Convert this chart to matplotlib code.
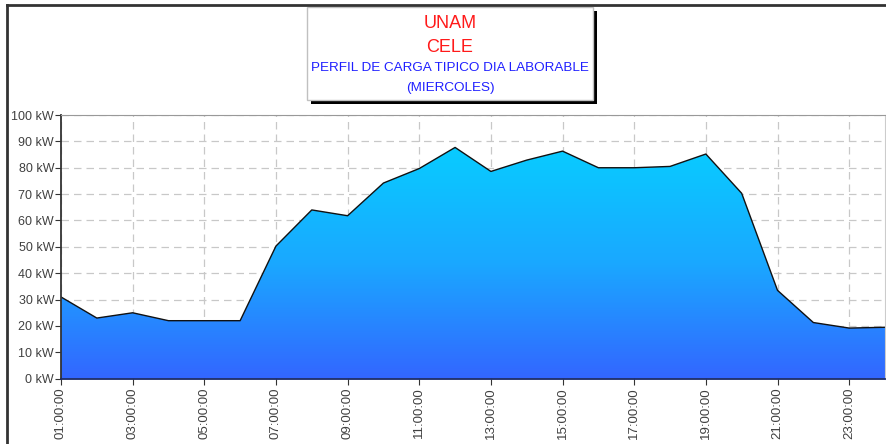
import numpy as np
import matplotlib.pyplot as plt
from matplotlib.colors import LinearSegmentedColormap
from matplotlib.patches import Rectangle
from matplotlib.lines import Line2D

# hourly load profile (kW), 01:00 .. 24:00
hours = list(range(1, 25))
load_kw = [31, 23, 25, 22, 22, 22, 50.3, 64, 61.8, 74.2, 79.7, 87.7,
           78.6, 82.9, 86.3, 80, 80, 80.5, 85.2, 70.3, 33.5, 21.3, 19.2, 19.5]
tick_hours = list(range(1, 24, 2))
tick_labels = [f"{h:02d}:00:00" for h in tick_hours]
y_ticks = list(range(0, 101, 10))
y_labels = [f"{v} kW" for v in y_ticks]

title_lines = ["UNAM", "CELE", "PERFIL DE CARGA TIPICO DIA LABORABLE", "(MIERCOLES)"]

W, H = 886, 444
fig = plt.figure(figsize=(W / 100, H / 100), dpi=100)
plt.rcParams['font.family'] = ['Liberation Sans', 'DejaVu Sans']

ax = fig.add_axes([61 / W, (H - 378.7) / H, (885 - 61) / W, (378.7 - 115) / H])
ax.set_xlim(1, 24)
ax.set_ylim(0, 100)

# gradient fill under the curve
cmap = LinearSegmentedColormap.from_list('load', ['#3366ff', '#1aa8ff', '#08ccff'])
grad = np.linspace(0, 1, 256).reshape(-1, 1)
top = max(load_kw)
img = ax.imshow(grad, cmap=cmap, origin='lower', aspect='auto',
                extent=[1, 24, 0, top], zorder=2)
poly = ax.fill_between(hours, load_kw, 0, facecolor='none', edgecolor='none')
img.set_clip_path(poly.get_paths()[0], transform=ax.transData)
ax.plot(hours, load_kw, color='#111111', lw=1.0, zorder=3)

ax.set_xticks(tick_hours)
ax.set_xticklabels(tick_labels, rotation=90, fontsize=9.5, color='#404040')
ax.set_yticks(y_ticks)
ax.set_yticklabels(y_labels, fontsize=9, color='#404040')
ax.tick_params(axis='both', length=4, color='#333333', pad=2)
ax.tick_params(axis='y', pad=1)
ax.grid(True, color='#c8c8c8', linestyle=(0, (6, 4)), lw=0.9, zorder=1)
ax.set_axisbelow(True)

ax.spines['left'].set_color('#333333')
ax.spines['left'].set_linewidth(1.3)
ax.spines['bottom'].set_color('#1a2a66')
ax.spines['bottom'].set_linewidth(1.3)
ax.spines['top'].set_color('#999999')
ax.spines['right'].set_color('#cccccc')
for s in ax.spines.values():
    s.set_zorder(4)

# outer frame (top and left edges)
fig.add_artist(Line2D([7 / W, 1], [1 - 5 / H, 1 - 5 / H], color='#333333', lw=2))
fig.add_artist(Line2D([7 / W, 7 / W], [0, 1 - 5 / H], color='#333333', lw=2))

# title box with shadow
bx0, bx1, by0, by1 = 307, 593, 7, 100
bw, bh = (bx1 - bx0) / W, (by1 - by0) / H
fig.add_artist(Rectangle(((bx0 + 4) / W, 1 - (by1 + 4) / H), bw, bh,
                         transform=fig.transFigure, facecolor='black', edgecolor='none'))
fig.add_artist(Rectangle((bx0 / W, 1 - by1 / H), bw, bh, transform=fig.transFigure,
                         facecolor='white', edgecolor='#c0c0c0', lw=1))
cx = (bx0 + bx1) / 2 / W
fig.text(cx, 1 - 23 / H, title_lines[0], color='#ff1a1a', fontsize=13, ha='center', va='center')
fig.text(cx, 1 - 47 / H, title_lines[1], color='#ff1a1a', fontsize=13, ha='center', va='center')
fig.text(cx, 1 - 68 / H, title_lines[2], color='#2020ff', fontsize=9.7, ha='center', va='center')
fig.text(cx, 1 - 88 / H, title_lines[3], color='#2020ff', fontsize=9.7, ha='center', va='center')

fig.savefig('out.png', dpi=100)
